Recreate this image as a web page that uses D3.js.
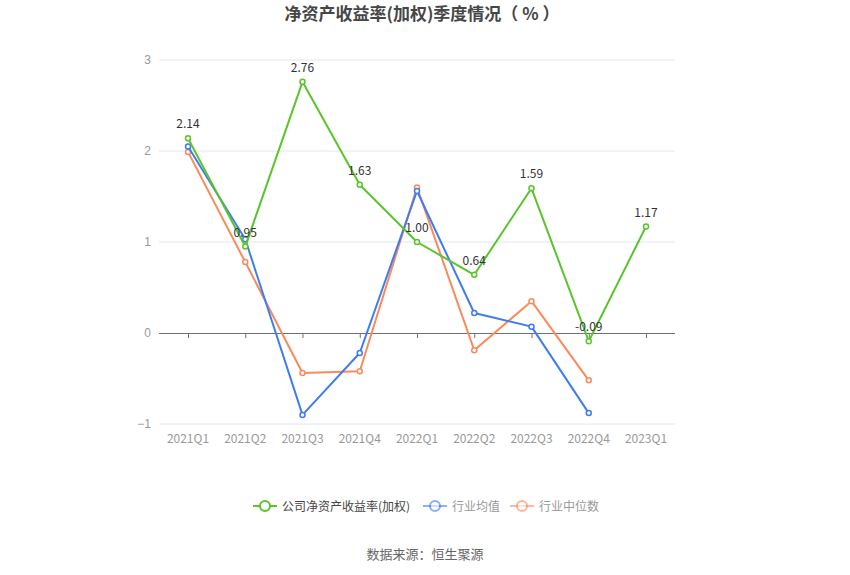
<!DOCTYPE html>
<html><head><meta charset="utf-8">
<script src="https://cdn.jsdelivr.net/npm/d3@7"></script>
<style>body{margin:0;background:#fff;}svg{display:block;font-family:"Noto Sans CJK SC","Noto Sans",sans-serif;}</style>
</head><body>
<svg id="c" width="850" height="575"></svg>
<script>
const categories = ["2021Q1","2021Q2","2021Q3","2021Q4","2022Q1","2022Q2","2022Q3","2022Q4","2023Q1"];
const companyROE = [2.14, 0.95, 2.76, 1.63, 1.00, 0.64, 1.59, -0.09, 1.17];
const industryAvg = [2.05, 1.03, -0.90, -0.22, 1.56, 0.22, 0.07, -0.88, null];
const industryMedian = [1.99, 0.78, -0.44, -0.42, 1.60, -0.19, 0.35, -0.52, null];
const yTicks = [-1, 0, 1, 2, 3];
const seriesNames = ["公司净资产收益率(加权)", "行业均值", "行业中位数"];
const titleText = "净资产收益率(加权)季度情况（ % ）";
const sourceText = "数据来源：恒生聚源";

const colors = ["#5ac42b", "#3f7cee", "#fa8a5c"];
const svg = d3.select("#c");

const x = d3.scalePoint().domain(categories).range([188, 646]);
const y = d3.scaleLinear().domain([-1, 3]).range([424, 60]);

// title
svg.append("text").attr("x", 422).attr("y", 20).attr("text-anchor", "middle")
  .attr("font-size", 17).attr("font-weight", "bold").attr("fill", "#464646").text(titleText);

// grid
svg.append("g").selectAll("line").data(yTicks.filter(d => d !== 0)).join("line")
  .attr("x1", 159).attr("x2", 675).attr("y1", d => y(d)).attr("y2", d => y(d))
  .attr("stroke", "#e0e6f1").attr("stroke-width", 1);

// y axis labels
const yAxis = d3.axisLeft(y).tickValues(yTicks).tickSize(0).tickPadding(8).tickFormat(d3.format("d"));
const gy = svg.append("g").attr("transform", "translate(159,0)").call(yAxis);
gy.select(".domain").remove();
gy.selectAll("text").attr("fill", "#999").attr("font-size", 12).attr("font-family", "inherit");

// x axis at zero
const xAxis = d3.axisBottom(x).tickSize(5).tickPadding(0).tickSizeOuter(0);
const gx = svg.append("g").attr("transform", `translate(0,${y(0)})`).call(xAxis);
gx.select(".domain").attr("d", "M159,0.5H675").attr("stroke", "#6e7079");
gx.selectAll(".tick line").attr("stroke", "#6e7079");
gx.selectAll("text").remove();
svg.append("g").selectAll("text").data(categories).join("text")
  .attr("x", d => x(d)).attr("y", 443).attr("text-anchor", "middle")
  .attr("fill", "#999").attr("font-size", 12).text(d => d);

// series
const allSeries = [industryMedian, industryAvg, companyROE];
const colorIdx = [2, 1, 0];
const line = d3.line().defined(d => d.v !== null).x(d => x(d.c)).y(d => y(d.v));
allSeries.forEach((s, i) => {
  const data = categories.map((c, j) => ({c, v: s[j]}));
  const col = colors[colorIdx[i]];
  svg.append("path").datum(data).attr("d", line).attr("fill", "none")
    .attr("stroke", col).attr("stroke-width", 2).attr("stroke-linejoin", "round");
  svg.append("g").selectAll("circle").data(data.filter(d => d.v !== null)).join("circle")
    .attr("cx", d => x(d.c)).attr("cy", d => y(d.v)).attr("r", 2.5)
    .attr("fill", "#fff").attr("stroke", col).attr("stroke-width", 1.5);
});

// labels for company
svg.append("g").selectAll("text").data(categories.map((c, j) => ({c, v: companyROE[j]}))).join("text")
  .attr("x", d => x(d.c)).attr("y", d => y(d.v) - 10).attr("text-anchor", "middle")
  .attr("font-size", 12).attr("fill", "#333").text(d => d.v.toFixed(2));

// legend
const legendItems = [
  {name: seriesNames[0], col: colors[0], x: 253, tc: "#444", op: 1},
  {name: seriesNames[1], col: colors[1], x: 423, tc: "#999", op: 0.6},
  {name: seriesNames[2], col: colors[2], x: 510, tc: "#999", op: 0.6}
];
const lg = svg.append("g");
legendItems.forEach(it => {
  const g = lg.append("g").attr("transform", `translate(${it.x},506)`);
  g.append("line").attr("x1", 0).attr("x2", 24).attr("y1", 0).attr("y2", 0)
    .attr("stroke", it.col).attr("stroke-width", 2).attr("opacity", it.op);
  g.append("circle").attr("cx", 12).attr("cy", 0).attr("r", 5)
    .attr("fill", "#fff").attr("stroke", it.col).attr("stroke-width", 2).attr("opacity", it.op);
  g.append("text").attr("x", 29).attr("y", 4.5).attr("font-size", 12).attr("fill", it.tc).text(it.name);
});

// source
svg.append("text").attr("x", 425).attr("y", 559).attr("text-anchor", "middle")
  .attr("font-size", 13).attr("fill", "#666").text(sourceText);
</script>
</body></html>
